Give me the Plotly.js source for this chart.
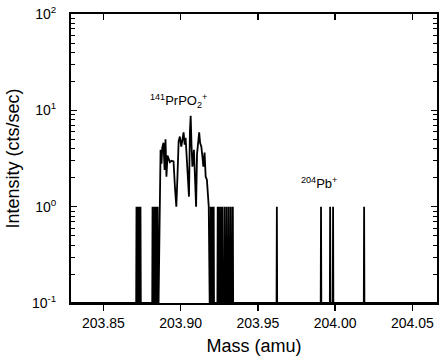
<!DOCTYPE html>
<html>
<head>
<meta charset="utf-8">
<script src="https://cdn.plot.ly/plotly-3.0.1.min.js"></script>
<style>html,body{margin:0;padding:0;background:#fff;}#chart{width:442px;height:360px;}</style>
</head>
<body>
<div id="chart"></div>
<script>
// Floor (no counts) level shown on the log axis
const floorLevel = 0.1;

// Isolated single-count spikes (mass in amu, intensity in cts/sec)
const spikeMass = [203.8714, 203.8722, 203.8732, 203.8740, 203.8818, 203.8830, 203.8840, 203.8851,
                   203.9195, 203.9205, 203.9214, 203.9240, 203.9250, 203.9262, 203.9272, 203.9286,
                   203.9299, 203.9312, 203.9325, 203.9338, 203.9623, 203.9909, 203.9968, 203.9987, 204.0188];
const spikeIntensity = [1, 1, 1, 1, 1, 1, 1, 1,
                        1, 1, 1, 1, 1, 1, 1, 1,
                        1, 1, 1, 1, 1, 1, 1, 1, 1];

// 141PrPO2+ cluster profile
const clusterMass = [203.8857, 203.8864, 203.8870, 203.8876, 203.8881, 203.8889, 203.8896, 203.8902,
                     203.8908, 203.8915, 203.8922, 203.8930, 203.8941, 203.8954, 203.8963, 203.8972,
                     203.8980, 203.8987, 203.8995, 203.9004, 203.9012, 203.9019, 203.9026, 203.9032,
                     203.9039, 203.9046, 203.9054, 203.9060, 203.9065, 203.9070, 203.9076, 203.9081,
                     203.9086, 203.9092, 203.9100, 203.9106, 203.9113, 203.9120, 203.9126, 203.9134,
                     203.9141, 203.9147, 203.9155, 203.9162, 203.9170, 203.9176, 203.9182, 203.9188];
const clusterIntensity = [0.1, 1.0, 3.9, 2.8, 4.1, 4.6, 2.4, 5.0,
                          2.05, 3.4, 3.2, 2.9, 3.0, 2.95, 1.6, 1.0,
                          2.2, 4.8, 5.35, 4.2, 5.0, 5.9, 4.4, 5.2,
                          3.3, 2.0, 1.27, 6.0, 8.8, 4.5, 2.6, 3.0,
                          3.9, 2.2, 1.0, 3.5, 5.0, 5.9, 4.6, 4.2,
                          3.3, 2.6, 3.65, 2.05, 1.9, 1.3, 1.0, 0.1];

const massRange = [203.829, 204.066];
const intensityTicks = [0.1, 1, 10, 100];
const intensityTickText = ['10<sup>-1</sup>', '10<sup>0</sup>', '10<sup>1</sup>', '10<sup>2</sup>'];
const massTicks = [203.85, 203.90, 203.95, 204.00, 204.05];

// Build one continuous spectrum trace
const halfWidth = 0.0002;
const pts = [];
spikeMass.forEach((m, i) => {
  pts.push([m - halfWidth, floorLevel], [m, spikeIntensity[i]], [m + halfWidth, floorLevel]);
});
clusterMass.forEach((m, i) => pts.push([m, clusterIntensity[i]]));
pts.sort((a, b) => a[0] - b[0]);
const xs = [massRange[0]].concat(pts.map(p => p[0]), [massRange[1]]);
const ys = [floorLevel].concat(pts.map(p => p[1]), [floorLevel]);

const minorVals = [];
[0.1, 1, 10].forEach(d => { for (let k = 2; k <= 9; k++) minorVals.push(d * k); });

const font = 'Liberation Sans, Arial, sans-serif';
const trace = {
  x: xs, y: ys, type: 'scatter', mode: 'lines',
  line: {color: '#000', width: 1.8}, hoverinfo: 'skip', showlegend: false
};
// invisible helper so the top (mirrored) mass axis is drawn with inward ticks
const topAxisHelper = {
  x: massRange, y: [floorLevel, floorLevel], xaxis: 'x2', type: 'scatter', mode: 'lines',
  line: {color: 'rgba(0,0,0,0)', width: 0}, hoverinfo: 'skip', showlegend: false
};

const layout = {
  width: 442, height: 360,
  margin: {l: 71, r: 5, t: 14, b: 57},
  paper_bgcolor: '#fff', plot_bgcolor: '#fff',
  font: {family: font, color: '#000', size: 13},
  xaxis: {
    range: massRange, tickvals: massTicks, ticktext: massTicks.map(v => v.toFixed(2)),
    ticks: 'outside', ticklen: 6, tickwidth: 1.5, tickcolor: '#000',
    showline: true, linewidth: 2, linecolor: '#000', mirror: true,
    showgrid: false, zeroline: false,
    tickfont: {size: 14},
    title: {text: 'Mass (amu)', font: {size: 18}, standoff: 10}
  },
  xaxis2: {
    overlaying: 'x', side: 'top', range: massRange, tickvals: massTicks,
    ticks: 'inside', ticklen: 6, tickwidth: 1.5, tickcolor: '#000',
    showticklabels: false, showline: false, showgrid: false, zeroline: false
  },
  yaxis: {
    type: 'log', range: [-1, 2], tickvals: intensityTicks, ticktext: intensityTickText,
    ticks: 'inside', ticklen: 6, tickwidth: 1.5, tickcolor: '#000',
    minor: {tickvals: minorVals, ticks: 'inside', ticklen: 4, tickwidth: 1, tickcolor: '#000', showgrid: false},
    showline: true, linewidth: 2, linecolor: '#000', mirror: 'ticks',
    showgrid: false, zeroline: false,
    tickfont: {size: 14}, ticklabelstandoff: 10,
    title: {text: 'Intensity (cts/sec)', font: {size: 18}, standoff: 8}
  },
  annotations: [
    {text: '<sup>141</sup>PrPO<sub>2</sub><sup>+</sup>', xref: 'x', yref: 'paper', x: 203.8987, y: 0.738,
     showarrow: false, font: {size: 13}},
    {text: '<sup>204</sup>Pb<sup>+</sup>', xref: 'x', yref: 'paper', x: 203.9895, y: 0.415,
     showarrow: false, font: {size: 13}}
  ]
};

Plotly.newPlot('chart', [trace, topAxisHelper], layout, {staticPlot: true, displayModeBar: false});
</script>
</body>
</html>
